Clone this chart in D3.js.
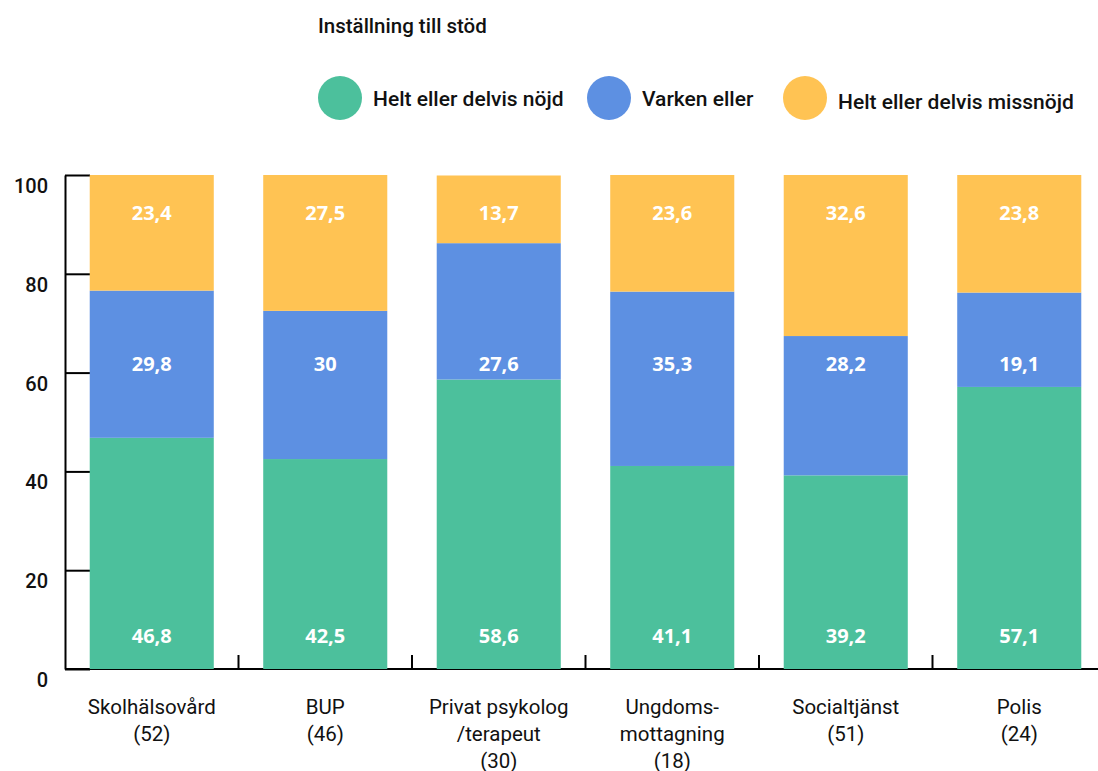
<!DOCTYPE html>
<html>
<head>
<meta charset="utf-8">
<title>Inställning till stöd</title>
<style>
  body { margin: 0; background: #fff; }
  text { font-family: Roboto, "Noto Sans", sans-serif; }
</style>
</head>
<body>
<svg width="1098" height="771"></svg>
<script src="https://d3js.org/d3.v7.min.js"></script>
<script>
// categories, with the group sizes shown under each name
var categories = [
  ["Skolhälsovård", "(52)"],
  ["BUP", "(46)"],
  ["Privat psykolog", "/terapeut", "(30)"],
  ["Ungdoms-", "mottagning", "(18)"],
  ["Socialtjänst", "(51)"],
  ["Polis", "(24)"]
];
var series = ["Helt eller delvis nöjd", "Varken eller", "Helt eller delvis missnöjd"];
var nojd     = [46.8, 42.5, 58.6, 41.1, 39.2, 57.1];
var varken   = [29.8, 30,   27.6, 35.3, 28.2, 19.1];
var missnojd = [23.4, 27.5, 13.7, 23.6, 32.6, 23.8];
var yTicks = [0, 20, 40, 60, 80, 100];

var colors = ["#4cc09c", "#5d90e2", "#ffc353"];
var labelLevels = [6.7, 61.7, 92.3];   // label rows, in axis units

var svg = d3.select("svg");
var fmt = function(v) { return String(v).replace(".", ","); };

var rows = categories.map(function(c, i) {
  return { key: i, nojd: nojd[i], varken: varken[i], missnojd: missnojd[i] };
});
var stack = d3.stack().keys(["nojd", "varken", "missnojd"])(rows);

var x = d3.scaleBand()
  .domain(d3.range(categories.length))
  .range([65, 1106])
  .paddingInner(0.285)
  .paddingOuter(0.1425);

var y = d3.scaleLinear().domain([0, 100]).range([669, 175]);

// y axis, ticks pointing inward under the bars
var yAxis = svg.append("g")
  .attr("transform", "translate(65,0)")
  .call(d3.axisLeft(y).tickValues(yTicks).tickSize(-25).tickSizeOuter(0).tickPadding(17));
yAxis.select(".domain").attr("stroke", "#000").attr("stroke-width", 2);
yAxis.selectAll(".tick line").attr("stroke", "#000").attr("stroke-width", 2);
yAxis.selectAll(".tick text")
  .attr("dy", "0.32em")
  .attr("y", 11)
  .attr("fill", "#111")
  .style("font-family", "Roboto, sans-serif")
  .style("font-size", "20px")
  .style("font-weight", "500");

// x axis line and the small ticks between the bars
svg.append("line")
  .attr("x1", 65).attr("x2", 1098)
  .attr("y1", y(0)).attr("y2", y(0))
  .attr("stroke", "#000").attr("stroke-width", 2);

svg.selectAll(".xtick")
  .data(d3.range(1, categories.length))
  .enter().append("line")
  .attr("class", "xtick")
  .attr("x1", function(d) { return x(d) - x.step() * x.paddingInner() / 2; })
  .attr("x2", function(d) { return x(d) - x.step() * x.paddingInner() / 2; })
  .attr("y1", y(0) - 14).attr("y2", y(0))
  .attr("stroke", "#000").attr("stroke-width", 2);

// bars
svg.selectAll(".layer")
  .data(stack)
  .enter().append("g")
  .attr("class", "layer")
  .attr("fill", function(d, i) { return colors[i]; })
  .selectAll("rect")
  .data(function(d) { return d; })
  .enter().append("rect")
  .attr("x", function(d) { return x(d.data.key); })
  .attr("width", x.bandwidth())
  .attr("y", function(d) { return y(d[1]); })
  .attr("height", function(d) { return y(d[0]) - y(d[1]); });

// value labels
svg.selectAll(".vlayer")
  .data(stack)
  .enter().append("g")
  .attr("class", "vlayer")
  .each(function(layer, li) {
    d3.select(this).selectAll("text")
      .data(layer)
      .enter().append("text")
      .attr("x", function(d) { return x(d.data.key) + x.bandwidth() / 2; })
      .attr("y", y(labelLevels[li]))
      .attr("dy", "0.35em")
      .attr("text-anchor", "middle")
      .attr("fill", "#fff")
      .style("font-family", "'Open Sans', sans-serif")
      .style("font-weight", "700")
      .style("font-size", "20px")
      .text(function(d) { return fmt(d.data[layer.key]); });
  });

// category labels
svg.selectAll(".cat")
  .data(categories)
  .enter().append("text")
  .attr("class", "cat")
  .attr("text-anchor", "middle")
  .attr("fill", "#111")
  .style("font-size", "20.5px")
  .each(function(lines, i) {
    d3.select(this).selectAll("tspan")
      .data(lines)
      .enter().append("tspan")
      .attr("x", x(i) + x.bandwidth() / 2)
      .attr("y", function(d, j) { return 714 + j * 27; })
      .text(function(d) { return d; });
  });

// legend
svg.append("text")
  .attr("x", 318).attr("y", 33)
  .attr("fill", "#111")
  .style("font-size", "20.5px")
  .style("font-weight", "500")
  .text("Inställning till stöd");

var legendX = [340, 609, 805];
var leg = svg.selectAll(".leg")
  .data(series)
  .enter().append("g")
  .attr("class", "leg")
  .attr("transform", function(d, i) { return "translate(" + legendX[i] + ",98)"; });
leg.append("circle").attr("r", 22).attr("fill", function(d, i) { return colors[i]; });
leg.append("text")
  .attr("x", 33).attr("y", function(d, i) { return i == 2 ? 11 : 8; })
  .attr("fill", "#111")
  .style("font-size", "21px")
  .style("font-weight", "500")
  .text(function(d) { return d; });
</script>
</body>
</html>
